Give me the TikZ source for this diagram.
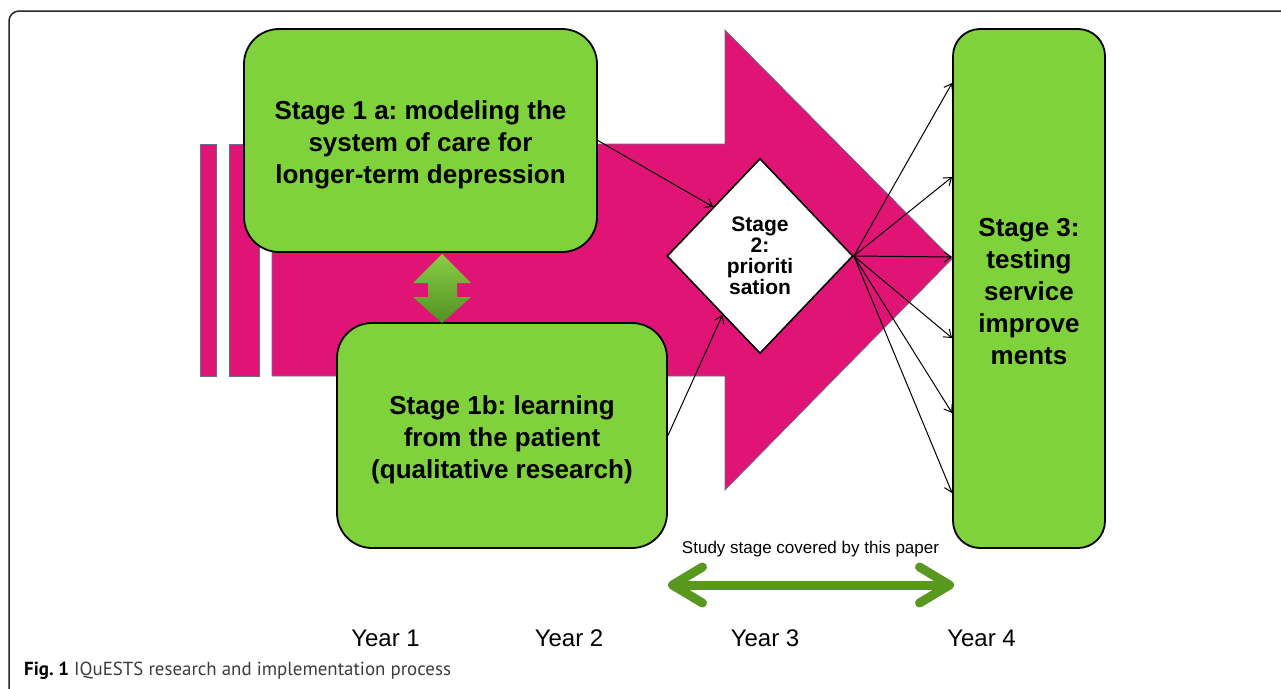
\documentclass[tikz,border=0pt]{standalone}
\usepackage{fontspec}
\setmainfont{Liberation Sans}
\newfontfamily\capfont{PT Sans}
\usetikzlibrary{arrows.meta,shapes.geometric,calc}
\definecolor{stagepink}{RGB}{224,20,116}
\definecolor{pinkline}{RGB}{96,112,140}
\definecolor{stagegreen}{RGB}{127,210,60}
\definecolor{spangreen}{RGB}{88,152,30}
\definecolor{capgray}{RGB}{60,60,60}
\frenchspacing
\begin{document}
\begin{tikzpicture}[x=1pt,y=-1pt,
  stagebox/.style={draw=black, line width=1.8pt, fill=stagegreen, rounded corners=35pt, inner sep=0pt, align=center, font=\bfseries\fontsize{26}{32}\selectfont},
  prioshape/.style={diamond, draw=black, line width=1.6pt, fill=white, inner sep=0pt, minimum width=186pt, minimum height=195pt, align=center, font=\bfseries\fontsize{21}{21}\selectfont},
  conn/.style={draw=black, line width=1pt, -{Straight Barb[length=7pt,width=10pt]}},
  yearlabel/.style={anchor=base, font=\fontsize{24}{28}\selectfont}]
\useasboundingbox (0,0) rectangle (1281,688);
\draw [line width=1.5pt, draw=black!85, rounded corners=10pt] (9,11) rectangle (1300,720);
% pink process arrow
\filldraw [fill=stagepink, draw=pinkline, line width=0.7pt] (200.5,144) rectangle (216,376);
\filldraw [fill=stagepink, draw=pinkline, line width=0.7pt] (229,144) rectangle (259,376);
\filldraw [fill=stagepink, draw=pinkline, line width=0.7pt] (272,144)--(725,144)--(725,30)--(952,259)--(725,490)--(725,376)--(272,376)--cycle;
\node [stagebox, minimum width=353pt, minimum height=223pt] (s1a) at (420.5,140.5) {\rule{0pt}{27pt}Stage 1 a: modeling the\\system of care for\\longer-term depression};
\node [stagebox, minimum width=330pt, minimum height=225pt] (s1b) at (502,435.5) {\rule{0pt}{28pt}Stage 1b: learning\\from the patient\\(qualitative research)};
\node [stagebox, rounded corners=27pt, minimum width=152pt, minimum height=519pt] (s3) at (1029,288.5) {\rule{0pt}{24pt}Stage 3:\\testing\\service\\improve\\ments};
\node [prioshape] (prio) at (760,256) {Stage\\2:\\prioriti\\sation};
\draw [top color={rgb,255:red,138;green,204;blue,70}, bottom color={rgb,255:red,80;green,146;blue,34}, draw=none] (442,254)--(471,283)--(457,283)--(457,297)--(471,297)--(442,323)--(413,297)--(428,297)--(428,283)--(413,283)--cycle;
\draw [conn] (s1a.east) -- ($(prio.north)!.5!(prio.west)$);
\draw [conn] (s1b.east) -- ($(prio.west)!.6!(prio.south)$);
\foreach \y in {83,177,257,338,413,493}
  \draw [conn] (prio.east) -- (s3.west |- 0,\y);
\node [anchor=base, font=\fontsize{17}{20}\selectfont] (span) at (810.5,553) {Study stage covered by this paper};
\coordinate (spanl) at (668,585);
\coordinate (spanr) at (954,585);
\draw [line width=9pt, draw=spangreen, {Straight Barb[length=30pt,width=36pt,round]}-{Straight Barb[length=30pt,width=36pt,round]}] (spanl) -- (spanr);
\node [yearlabel] (y1) at (385.5,646) {Year 1};
\node [yearlabel] (y2) at (569,646) {Year 2};
\node [yearlabel] (y3) at (765,646) {Year 3};
\node [yearlabel] (y4) at (981.5,646) {Year 4};
\node [anchor=base west, inner sep=0pt, font=\capfont\fontsize{18.9}{22}\selectfont] (cap) at (24,675) {\textbf{Fig. 1} {\color{capgray}IQuESTS research and implementation process}};
\end{tikzpicture}
\end{document}
